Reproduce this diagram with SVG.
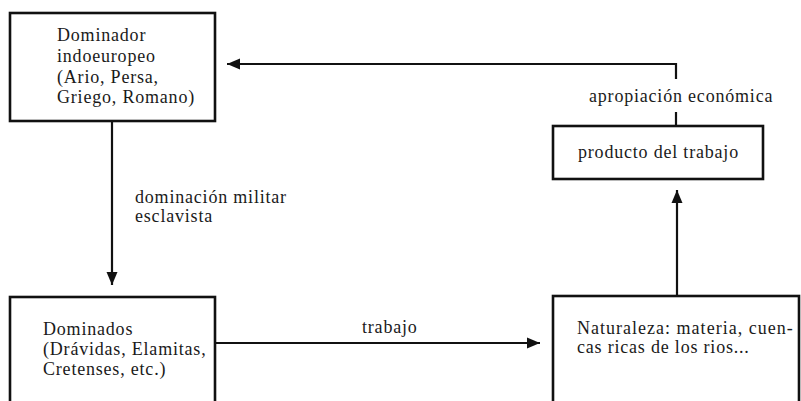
<svg xmlns="http://www.w3.org/2000/svg" width="801" height="401" viewBox="0 0 801 401">
<style>
.box{fill:#fff;stroke:#111;stroke-width:2.6}
.t{font-family:"Liberation Serif","Times New Roman",serif;font-size:18px;letter-spacing:0.8px;fill:#1a1a1a}
.c{fill:none;stroke:#111;stroke-width:2.2}
</style>
<defs>
<marker id="ah" markerUnits="userSpaceOnUse" markerWidth="14" markerHeight="12" refX="13" refY="6" orient="auto">
<path d="M0,0.5 L13,6 L0,11.5 z" fill="#111"/>
</marker>
</defs>
<rect width="801" height="401" fill="#fff"/>
<g id="connectors">
<path class="c" d="M112,121 V285" marker-end="url(#ah)"/>
<path class="c" d="M215,343 H540" marker-end="url(#ah)"/>
<path class="c" d="M677,296 V190" marker-end="url(#ah)"/>
<path class="c" d="M676,126 V112"/>
<path class="c" d="M676,79 V64 H227" marker-end="url(#ah)"/>
<text class="t" x="135" y="203">dominación militar</text>
<text class="t" x="135" y="222">esclavista</text>
<text class="t" x="362" y="333">trabajo</text>
<text class="t" x="589" y="102">apropiación económica</text>
</g>
<g id="dominador">
<rect class="box" x="10" y="13" width="205" height="108"/>
<text class="t" x="57" y="41">Dominador</text>
<text class="t" x="57" y="62">indoeuropeo</text>
<text class="t" x="57" y="83">(Ario, Persa,</text>
<text class="t" x="57" y="103">Griego, Romano)</text>
</g>
<g id="producto">
<rect class="box" x="553" y="126" width="210" height="53"/>
<text class="t" x="578" y="158">producto del trabajo</text>
</g>
<g id="dominados">
<rect class="box" x="10" y="297" width="205" height="130"/>
<text class="t" x="43" y="335">Dominados</text>
<text class="t" x="43" y="355">(Drávidas, Elamitas,</text>
<text class="t" x="43" y="375">Cretenses, etc.)</text>
</g>
<g id="naturaleza">
<rect class="box" x="553" y="296" width="246" height="130"/>
<text class="t" x="577" y="334" style="letter-spacing:0.3px" textLength="216" lengthAdjust="spacing">Naturaleza: materia, cuen-</text>
<text class="t" x="577" y="353">cas ricas de los rios...</text>
</g>
</svg>
